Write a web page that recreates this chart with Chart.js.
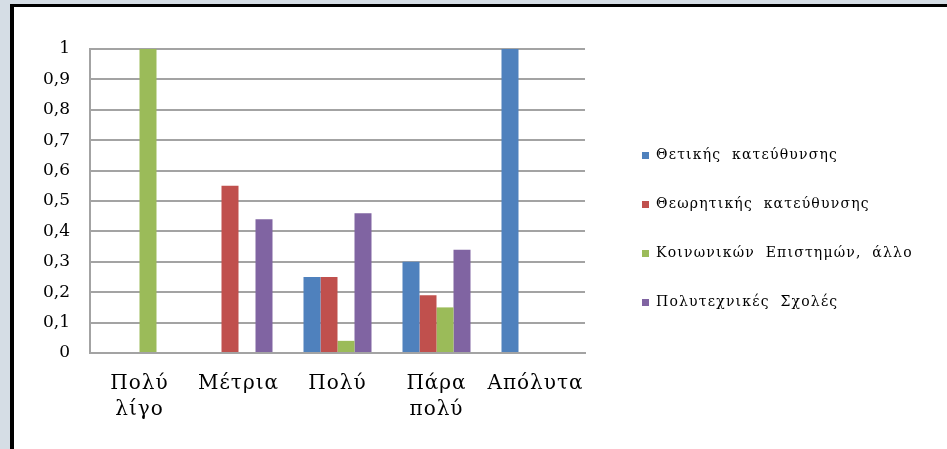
<!DOCTYPE html>
<html lang="el">
<head>
<meta charset="UTF-8">
<title>Κατεύθυνση και βαθμός</title>
<script src="https://cdn.jsdelivr.net/npm/chart.js"></script>
<style>
  html, body { margin: 0; padding: 0; background: #d5dde5; }
  body { width: 947px; height: 449px; overflow: hidden; position: relative; }
  .frame {
    position: absolute; left: 10px; top: 4px;
    width: 933px; height: 442px;
    background: #fff;
    border-left: 4px solid #000;
    border-top: 3px solid #000;
  }
  canvas { display: block; }
</style>
</head>
<body>
<div class="frame"><canvas id="chart" width="933" height="442"></canvas></div>

<script>
const categories = [['Πολύ', 'λίγο'], 'Μέτρια', 'Πολύ', ['Πάρα', 'πολύ'], 'Απόλυτα'];
const seriesNames = ['Θετικής κατεύθυνσης', 'Θεωρητικής κατεύθυνσης', 'Κοινωνικών Επιστημών, άλλο', 'Πολυτεχνικές Σχολές'];
const thetiki = [0, 0, 0.25, 0.30, 1];
const theoritiki = [0, 0.55, 0.25, 0.19, 0];
const koinonikes = [1, 0, 0.04, 0.15, 0];
const polytexnikes = [0, 0.44, 0.46, 0.34, 0];
const seriesColors = ['#4f81bd', '#c0504d', '#9bbb59', '#8064a2'];
const yTickLabels = ['0', '0,1', '0,2', '0,3', '0,4', '0,5', '0,6', '0,7', '0,8', '0,9', '1'];

const serif = 'DejaVu Serif';
const gridGrey = '#a3a3a3';
const legendWidth = 362;

// run a draw method with wider letter spacing
function spaced(obj, method, spacing) {
  const orig = obj[method].bind(obj);
  obj[method] = function (...args) {
    const ctx = obj.ctx;
    ctx.save();
    ctx.letterSpacing = spacing;
    orig(...args);
    ctx.restore();
  };
}

// wide legend column, items pushed right of the plot
const legendLayout = {
  id: 'legendLayout',
  beforeLayout(chart) {
    const lg = chart.legend;
    if (!lg || lg._patched) return;
    const fit = lg.fit.bind(lg);
    const draw = lg.draw.bind(lg);
    lg.fit = function () {
      fit();
      this.width = legendWidth;
    };
    lg.draw = function () {
      const ctx = chart.ctx;
      ctx.save();
      ctx.translate(22, -16);
      ctx.letterSpacing = '1.2px';
      ctx.wordSpacing = '5px';
      draw();
      ctx.restore();
    };
    lg._patched = true;
  }
};

const values = [thetiki, theoritiki, koinonikes, polytexnikes];

new Chart(document.getElementById('chart'), {
  type: 'bar',
  data: {
    labels: categories,
    datasets: seriesNames.map((name, i) => ({
      label: name,
      data: values[i],
      backgroundColor: seriesColors[i],
      borderWidth: 0,
      barPercentage: 1,
      categoryPercentage: 0.687
    }))
  },
  options: {
    responsive: false,
    animation: false,
    layout: { padding: { left: 0, top: 42, right: 0, bottom: 8 } },
    plugins: {
      legend: {
        position: 'right',
        labels: {
          boxWidth: 7,
          boxHeight: 7,
          padding: 35,
          color: '#000',
          font: { family: serif, size: 14 }
        }
      },
      tooltip: { enabled: false }
    },
    scales: {
      x: {
        afterFit(scale) {
          if (!scale._spaced) { spaced(scale, 'drawLabels', '1px'); scale._spaced = true; }
        },
        grid: { display: false, drawTicks: false },
        border: { color: gridGrey, width: 2 },
        ticks: {
          color: '#000',
          padding: 18,
          maxRotation: 0,
          autoSkip: false,
          font: { family: serif, size: 20, lineHeight: 1.3 }
        }
      },
      y: {
        min: 0,
        max: 1,
        afterFit(scale) { scale.width = 76; },
        grid: { color: gridGrey, lineWidth: 2, drawTicks: false },
        border: { color: gridGrey, width: 2 },
        ticks: {
          stepSize: 0.1,
          padding: 20,
          color: '#000',
          font: { family: serif, size: 17 },
          callback: (v, i) => yTickLabels[i]
        }
      }
    }
  },
  plugins: [legendLayout]
});
</script>
</body>
</html>
